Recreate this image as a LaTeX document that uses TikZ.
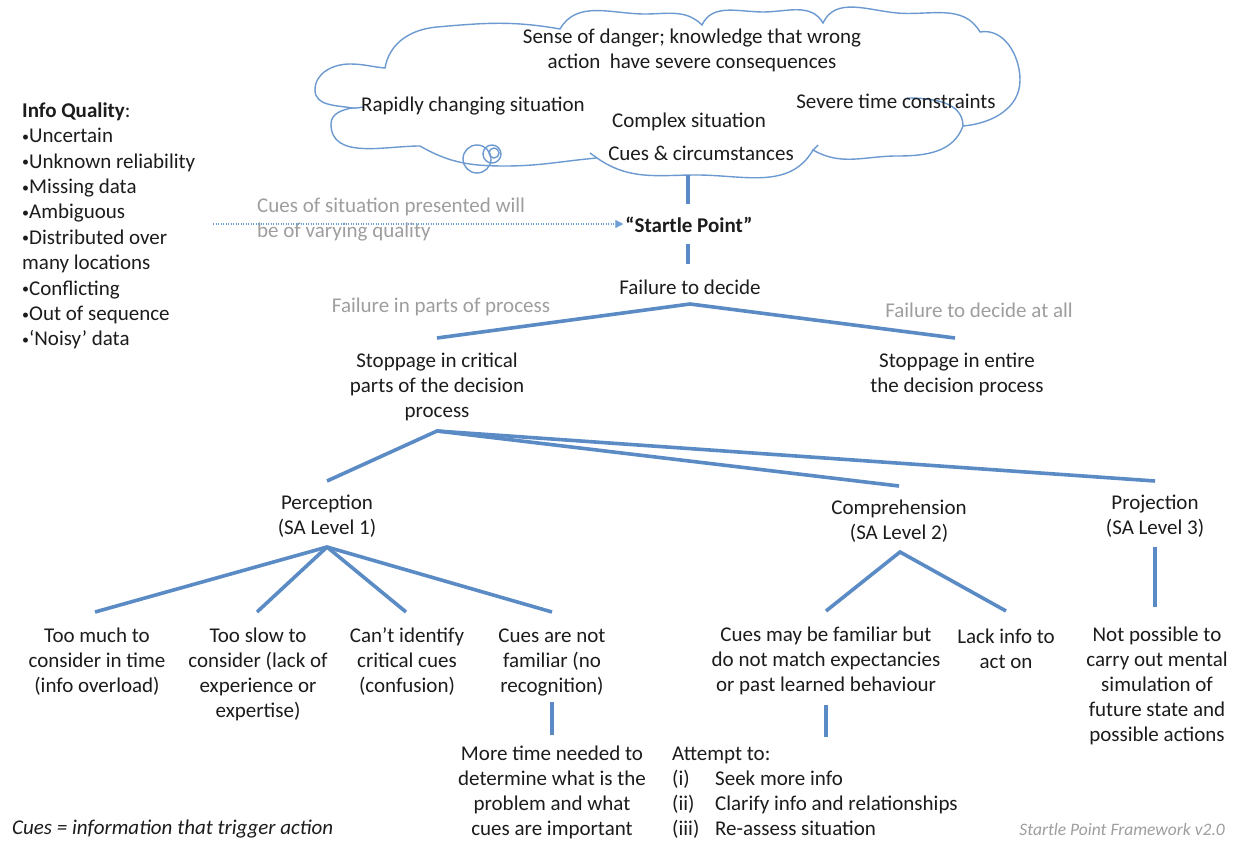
\documentclass[tikz,border=0pt]{standalone}
\usepackage{fontspec}
\setmainfont{Carlito}
\usetikzlibrary{arrows.meta}
\definecolor{lineblue}{HTML}{5B8BC5}
\definecolor{cloudblue}{HTML}{6C9AD0}
\definecolor{labelgray}{HTML}{9E9E9E}
\definecolor{txt}{HTML}{1C1C1C}
\definecolor{dotblue}{HTML}{6E9FD6}
\newcommand{\bulmark}{{\fontsize{14}{14}\selectfont\raisebox{1.5pt}{•}}}
\begin{document}
\begin{tikzpicture}[x=1pt,y=1pt,
  every node/.style={font=\fontsize{21}{25}\selectfont, text=txt, inner sep=0pt, align=center},
  graylabel/.style={text=labelgray},
  branch/.style={draw=lineblue, line width=3.6pt},
  cloudline/.style={draw=cloudblue, line width=1.4pt},
]
\useasboundingbox (0,0) rectangle (1238,-845);
\fill[white] (0,0) rectangle (1238,-845);

% cloud
\draw[cloudline, fill=white] (385,-68)
 to[out=80,in=185] (437,-27)
 to[out=5,in=170] (560,-29)
 to[out=60,in=180] (645,-14)
 to[out=0,in=135] (702,-25)
 to[out=65,in=180] (763,-12)
 to[out=0,in=120] (823,-23)
 to[out=65,in=175] (897,-13)
 to[out=-5,in=120] (980,-32)
 to[out=10,in=90] (1020,-80)
 to[out=-90,in=5] (963,-126)
 to[out=-110,in=0] (897,-156)
 to[out=180,in=-30] (813,-150)
 to[out=-120,in=0] (697,-175)
 to[out=180,in=-35] (597,-158)
 to[out=185,in=0] (505,-166)
 to[out=180,in=-30] (420,-146)
 to[out=180,in=-90] (331,-124)
 to[out=90,in=190] (352,-108)
 to[out=170,in=-90] (315,-90)
 to[out=90,in=180] (350,-64)
 to[out=0,in=175] (385,-68) -- cycle;
\draw[cloudline] (352,-108) to[out=-5,in=185] (364,-107);
\draw[cloudline] (597,-158) to[out=145,in=-40] (590,-153);
\draw[cloudline] (813,-150) to[out=60,in=-120] (818,-145);
\draw[cloudline] (963,-126) to[out=90,in=0] (907,-98);
\draw[cloudline] (477,-159) circle (14pt);
\draw[cloudline] (492,-154) circle (9pt);
\draw[cloudline] (494,-153) circle (5pt);

% cloud texts
\node (danger) at (692,-50) {Sense of danger; knowledge that wrong\\action\ \ have severe consequences};
\node (rapid) at (473,-106) {Rapidly changing situation};
\node (severe) at (896,-101) {Severe time constraints};
\node (complex) at (689,-122) {Complex situation};
\node (cuescirc) at (701,-153) {Cues \& circumstances};

% main chain
\node[font=\fontsize{21}{25}\selectfont\bfseries] (startle) at (689,-225) {“Startle Point”};
\node (fail) at (690,-287) {Failure to decide};
\node[graylabel] (flpart) at (441,-307) {Failure in parts of process};
\node[graylabel] (flall) at (979,-310) {Failure to decide at all};
\node (stopcrit) at (437,-387) {Stoppage in critical\\parts of the decision\\process};
\node (stopall) at (957,-374.5) {Stoppage in entire\\the decision process};
\node (perc) at (327,-516.5) {Perception\\(SA Level 1)};
\node (comp) at (899,-521) {Comprehension\\(SA Level 2)};
\node (proj) at (1155,-516) {Projection\\(SA Level 3)};

\node (toomuch) at (97,-662) {Too much to\\consider in time\\(info overload)};
\node (tooslow) at (258,-674.5) {Too slow to\\consider (lack of\\experience or\\expertise)};
\node (cantid) at (407,-662) {Can’t identify\\critical cues\\(confusion)};
\node (notfam) at (552,-662) {Cues are not\\familiar (no\\recognition)};
\node (moretime) at (552,-792.5) {More time needed to\\determine what is the\\problem and what\\cues are important};
\node (mayfam) at (826,-661) {Cues may be familiar but\\do not match expectancies\\or past learned behaviour};
\node (lackinfo) at (1006,-648.5) {Lack info to\\act on};
\node (notposs) at (1157,-686) {Not possible to\\carry out mental\\simulation of\\future state and\\possible actions};
\node[anchor=west, align=left] (attempt) at (672,-793) {Attempt to:\\
\makebox[43pt][l]{(i)}Seek more info\\
\makebox[43pt][l]{(ii)}Clarify info and relationships\\
\makebox[43pt][l]{(iii)}Re-assess situation};

% left side
\node[anchor=west, align=left, font=\fontsize{21}{25.4}\selectfont] (infoq) at (22,-226) {\textbf{Info Quality}:\\
\bulmark Uncertain\\
\bulmark Unknown reliability\\
\bulmark Missing data\\
\bulmark Ambiguous\\
\bulmark Distributed over\\
many locations\\
\bulmark Conflicting\\
\bulmark Out of sequence\\
\bulmark ‘Noisy’ data};
\node[graylabel, anchor=west, align=left] (cuesvary) at (257,-219.5) {Cues of situation presented will\\be of varying quality};
\node[anchor=west, font=\fontsize{21}{25}\selectfont\itshape] (cuesdef) at (12,-829) {Cues = information that trigger action};
\node[anchor=east, text=labelgray, font=\fontsize{17.5}{20}\selectfont\itshape] (version) at (1225,-829) {Startle Point Framework v2.0};

% coordinates
\coordinate (a0) at (688,-175); \coordinate (a1) at (688,-204);
\coordinate (b0) at (688,-244); \coordinate (b1) at (688,-264);
\coordinate (apex1) at (690,-304); \coordinate (l1) at (437,-338); \coordinate (r1) at (955,-338);
\coordinate (apex2) at (437,-431); \coordinate (pe) at (327,-481); \coordinate (ce) at (899,-486); \coordinate (pj) at (1155,-481);
\coordinate (apex3) at (327,-547);
\coordinate (t1) at (95,-612); \coordinate (t2) at (257,-612); \coordinate (t3) at (406,-612); \coordinate (t4) at (552,-612);
\coordinate (apex4) at (900,-552); \coordinate (m1) at (826,-611); \coordinate (m2) at (1006,-611);
\coordinate (pv0) at (1155,-547); \coordinate (pv1) at (1155,-607);
\coordinate (nv0) at (552,-702); \coordinate (nv1) at (552,-735);
\coordinate (cv0) at (826,-705); \coordinate (cv1) at (826,-737);
\coordinate (dotstart) at (213,-224);

% connectors
\draw[branch] (a0) -- (a1);
\draw[branch] (b0) -- (b1);
\draw[branch] (l1) -- (apex1) -- (r1);
\draw[branch] (pe) -- (apex2) -- (pj);
\draw[branch] (apex2) -- (ce);
\draw[branch] (t1) -- (apex3) -- (t4);
\draw[branch] (apex3) -- (t2);
\draw[branch] (apex3) -- (t3);
\draw[branch] (m1) -- (apex4) -- (m2);
\draw[branch] (pv0) -- (pv1);
\draw[branch] (nv0) -- (nv1);
\draw[branch] (cv0) -- (cv1);
\draw[dotblue, line width=1.2pt, dash pattern=on 1.2pt off 1.3pt, -{Triangle[length=8pt,width=8pt]}] (dotstart) -- ([xshift=-2pt]startle.west |- dotstart);
\end{tikzpicture}
\end{document}
